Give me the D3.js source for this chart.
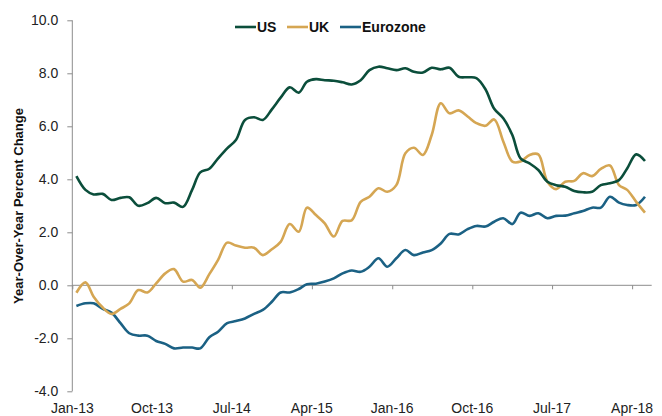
<!DOCTYPE html>
<html>
<head>
<meta charset="utf-8">
<script src="https://cdn.jsdelivr.net/npm/d3@7"></script>
<style>
  body { margin: 0; background: #fff; }
  text { font-family: Arial, "Liberation Sans", sans-serif; }
</style>
</head>
<body>
<svg width="662" height="416"></svg>
<script>
// monthly readings, Jan-13 .. May-18 (mid-month)
var firstMonth = "2013-01-15";

var us = [4.12, 3.6, 3.43, 3.45, 3.22, 3.3, 3.32, 3.0, 3.1, 3.3, 3.1, 3.12, 2.96, 3.6, 4.26, 4.4,
  4.79, 5.17, 5.48, 6.24, 6.34, 6.24, 6.64, 7.08, 7.47, 7.27, 7.68, 7.78, 7.74, 7.72, 7.66, 7.58,
  7.74, 8.12, 8.25, 8.19, 8.12, 8.19, 8.06, 8.03, 8.21, 8.15, 8.21, 7.87, 7.85, 7.82, 7.4, 6.66,
  6.3, 5.67, 4.79, 4.6, 4.35, 3.91, 3.78, 3.72, 3.56, 3.51, 3.53, 3.78, 3.85, 3.97, 4.41, 4.94, 4.69];

var uk = [-0.28, 0.11, -0.43, -0.84, -1.08, -0.89, -0.68, -0.18, -0.27, 0.07, 0.45, 0.61, 0.14, 0.2, -0.09, 0.42,
  0.96, 1.61, 1.5, 1.42, 1.42, 1.14, 1.36, 1.64, 2.31, 2.02, 2.93, 2.65, 2.34, 1.84, 2.43, 2.45,
  3.15, 3.34, 3.66, 3.53, 3.78, 4.98, 5.19, 4.92, 5.67, 6.87, 6.49, 6.6, 6.37, 6.12, 6.02, 6.26,
  5.43, 4.67, 4.67, 4.92, 4.94, 3.91, 3.63, 3.91, 3.94, 4.23, 4.12, 4.39, 4.52, 3.78, 3.6, 3.15, 2.74];

var euro = [-0.78, -0.68, -0.68, -0.89, -1.03, -1.43, -1.81, -1.9, -1.9, -2.1, -2.21, -2.38, -2.35, -2.35, -2.38, -1.96,
  -1.75, -1.43, -1.35, -1.25, -1.08, -0.93, -0.62, -0.27, -0.27, -0.14, 0.04, 0.06, 0.14, 0.26, 0.45, 0.56,
  0.51, 0.7, 1.02, 0.7, 1.02, 1.33, 1.14, 1.24, 1.33, 1.58, 1.94, 1.92, 2.12, 2.24, 2.22, 2.4,
  2.53, 2.31, 2.74, 2.62, 2.72, 2.53, 2.62, 2.63, 2.72, 2.8, 2.93, 2.93, 3.34, 3.12, 3.03, 3.03, 3.34];

var seriesNames = ["US", "UK", "Eurozone"];
var seriesColors = ["#0b4e3b", "#d5a653", "#1b6184"];
var xTickLabels = ["Jan-13", "Oct-13", "Jul-14", "Apr-15", "Jan-16", "Oct-16", "Jul-17", "Apr-18"];
var yTicks = [-4, -2, 0, 2, 4, 6, 8, 10];

var svg = d3.select("svg");

var parseTick = d3.timeParse("%b-%y");
var start = d3.timeParse("%Y-%m-%d")(firstMonth);
var dates = us.map(function(d, i) { return d3.timeMonth.offset(start, i); });

var x = d3.scaleTime()
    .domain([new Date(2013, 0, 1), new Date(2018, 5, 7)])
    .range([72.3, 651.7]);

var y = d3.scaleLinear()
    .domain([-4, 10])
    .range([391.3, 20.3]);

var grey = "#8c8c8c";

/*y axis*/
var yAxis = svg.append("g")
    .attr("transform", "translate(72.3,0)")
    .call(d3.axisLeft(y).tickValues(yTicks).tickSize(5).tickPadding(9));
yAxis.select(".domain").attr("stroke", grey).attr("d", "M0," + y(-4) + "V" + y(10));
yAxis.selectAll(".tick line").attr("stroke", grey);
yAxis.selectAll(".tick text")
    .attr("fill", "#222")
    .style("font-size", "14px")
    .text(function(d) { return d3.format(".1f")(d).replace("−", "-"); });

/*x axis sits on zero line, labels at the bottom*/
var xAxis = svg.append("g")
    .attr("transform", "translate(0," + y(0) + ")")
    .call(d3.axisBottom(x).tickValues(xTickLabels.map(parseTick)).tickSize(4).tickFormat(""));
xAxis.select(".domain").attr("stroke", grey).attr("d", "M" + x.range()[0] + ",0H" + x.range()[1]);
xAxis.selectAll(".tick line").attr("stroke", grey);

svg.append("g")
  .selectAll("text")
  .data(xTickLabels)
  .enter().append("text")
    .attr("x", function(d) { return x(parseTick(d)); })
    .attr("y", 413)
    .attr("text-anchor", "middle")
    .attr("fill", "#222")
    .style("font-size", "14px")
    .text(function(d) { return d; });

/*axis title*/
svg.append("text")
    .attr("transform", "translate(23,206) rotate(-90)")
    .attr("text-anchor", "middle")
    .style("font-size", "13px")
    .style("font-weight", "bold")
    .attr("fill", "#111")
    .text("Year-Over-Year Percent Change");

/*lines*/
var line = d3.line()
    .x(function(d, i) { return x(dates[i]); })
    .y(function(d) { return y(d); })
    .curve(d3.curveCatmullRom.alpha(0.5));

svg.selectAll(".series")
  .data([us, uk, euro].reverse())
  .enter().append("path")
    .attr("class", "series")
    .attr("fill", "none")
    .attr("stroke", function(d, i) { return seriesColors[2 - i]; })
    .attr("stroke-width", 2.6)
    .attr("stroke-linejoin", "round")
    .attr("d", line);

/*legend*/
var legendX = [235, 287, 340];
var legend = svg.append("g")
  .selectAll("g")
  .data(seriesNames)
  .enter().append("g")
    .attr("transform", function(d, i) { return "translate(" + legendX[i] + ",27)"; });

legend.append("line")
    .attr("x1", 0).attr("x2", 21)
    .attr("stroke", function(d, i) { return seriesColors[i]; })
    .attr("stroke-width", 2.6);

legend.append("text")
    .attr("x", 22)
    .attr("y", 5)
    .style("font-size", "14px")
    .style("font-weight", "bold")
    .attr("fill", "#111")
    .text(function(d) { return d; });
</script>
</body>
</html>
